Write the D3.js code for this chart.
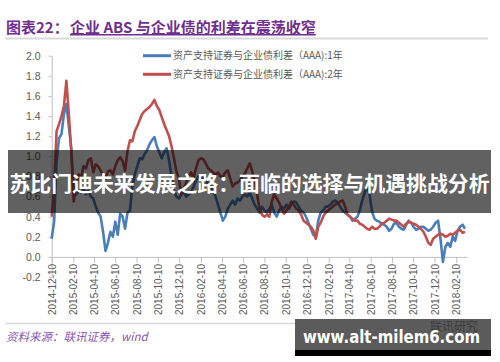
<!DOCTYPE html>
<html><head><meta charset="utf-8">
<script src="https://cdn.jsdelivr.net/npm/d3@7"></script>
<style>
html,body{margin:0;padding:0;background:#fff;}
svg{display:block;}
</style></head>
<body>
<svg id="chart" width="500" height="362"></svg>
<script>
// ---------------- data ----------------
const titleLead = "图表22：";
const titleMain = "企业 ABS 与企业债的利差在震荡收窄";
const seriesNames = ["资产支持证券与企业债利差（AAA):1年", "资产支持证券与企业债利差（AAA):2年"];
const sourceText = "资料来源：联讯证券，wind";
const bannerText = "苏比门迪未来发展之路：面临的选择与机遇挑战分析";
const siteText = "www.alt-milem6.com";
const startDate = "2014-12-10";   // first weekly observation
const endDate = "2018-03-12";
const xTickLabels = ["2014-12-10","2015-02-10","2015-04-10","2015-06-10","2015-08-10","2015-10-10","2015-12-10",
  "2016-02-10","2016-04-10","2016-06-10","2016-08-10","2016-10-10","2016-12-10","2017-02-10","2017-04-10",
  "2017-06-10","2017-08-10","2017-10-10","2017-12-10","2018-02-10"];
const yTicks = [-0.2,0.0,0.2,0.4,0.6,0.8,1.0,1.2,1.4,1.6,1.8,2.0];

// weekly values
const spread1Y = [0.18,0.35,0.95,1.18,1.22,1.42,1.52,1.30,1.08,0.65,
  0.62,0.66,0.64,0.68,0.62,0.66,0.60,0.58,0.50,0.44,
  0.40,0.25,0.06,0.14,0.25,0.20,0.35,0.22,0.43,0.40,
  0.28,0.44,0.46,0.70,0.82,0.90,0.98,0.97,1.02,1.06,
  1.12,1.16,1.19,1.10,1.04,0.98,1.04,1.08,0.96,0.80,
  0.66,0.60,0.58,0.62,0.64,0.60,0.62,0.64,0.70,0.76,
  0.80,0.78,0.80,0.76,0.72,0.70,0.66,0.60,0.52,0.44,
  0.36,0.40,0.48,0.52,0.56,0.52,0.58,0.56,0.60,0.62,
  0.60,0.64,0.58,0.52,0.48,0.44,0.50,0.46,0.44,0.48,
  0.52,0.44,0.40,0.46,0.50,0.48,0.52,0.48,0.52,0.55,
  0.54,0.50,0.46,0.44,0.40,0.34,0.28,0.22,0.20,0.36,
  0.44,0.46,0.50,0.50,0.52,0.55,0.56,0.54,0.50,0.46,
  0.44,0.42,0.40,0.36,0.38,0.40,0.46,0.56,0.64,0.70,
  0.62,0.45,0.38,0.36,0.35,0.33,0.32,0.30,0.26,0.28,
  0.33,0.34,0.30,0.28,0.27,0.32,0.36,0.34,0.30,0.27,
  0.28,0.30,0.30,0.28,0.26,0.27,0.30,0.34,0.36,0.18,
  -0.05,0.10,0.14,0.10,0.20,0.16,0.26,0.30,0.32,0.28];
const spread2Y = [0.40,0.70,1.25,1.32,1.40,1.50,1.75,1.42,1.05,0.55,
  0.70,0.82,0.78,0.90,0.88,0.96,0.98,0.84,0.92,0.90,
  0.86,0.80,0.78,0.85,0.86,0.82,0.90,0.96,0.99,0.95,
  0.86,1.05,1.16,1.15,1.25,1.30,1.36,1.42,1.45,1.47,
  1.49,1.52,1.56,1.50,1.46,1.39,1.32,1.26,1.20,1.10,
  0.98,0.85,0.78,0.62,0.68,0.74,0.80,0.84,0.78,0.88,
  0.96,0.98,0.97,0.93,0.88,0.86,0.84,0.82,0.84,0.80,
  0.80,0.84,0.86,0.78,0.70,0.73,0.74,0.76,0.80,0.83,
  0.88,0.93,0.85,0.75,0.62,0.48,0.42,0.40,0.42,0.40,
  0.55,0.62,0.58,0.54,0.48,0.43,0.46,0.50,0.55,0.52,
  0.48,0.46,0.42,0.36,0.34,0.32,0.30,0.26,0.18,0.30,
  0.34,0.40,0.44,0.46,0.48,0.50,0.52,0.53,0.55,0.56,
  0.50,0.42,0.40,0.38,0.36,0.36,0.33,0.32,0.30,0.28,
  0.27,0.30,0.28,0.28,0.30,0.33,0.34,0.36,0.38,0.37,
  0.36,0.36,0.34,0.32,0.30,0.33,0.35,0.34,0.33,0.32,
  0.30,0.28,0.25,0.20,0.14,0.12,0.18,0.20,0.22,0.23,
  0.22,0.20,0.21,0.23,0.22,0.24,0.26,0.27,0.24,0.25];

// ---------------- drawing ----------------
const parse = d3.timeParse("%Y-%m-%d");
const t0 = parse(startDate);
const dates = spread1Y.map((_, i) => d3.timeDay.offset(t0, 7 * i));

const svg = d3.select("#chart");
const cjk = "'Noto Sans CJK SC','Noto Sans',sans-serif";
const latin = "'Liberation Sans','Noto Sans CJK SC',sans-serif";

const x = d3.scaleTime().domain([t0, parse(endDate)]).range([51.7, 466.7]);
const y = d3.scaleLinear().domain([-0.2, 2.0]).range([277, 55.7]);

// title
const title = svg.append("text").attr("x", 6).attr("y", 33)
  .style("font-family", cjk).style("font-size", "15px").style("font-weight", "bold").style("fill", "#6f2f8f");
title.append("tspan").text(titleLead);
title.append("tspan").attr("x", 70).attr("text-decoration", "underline").text(titleMain);
svg.append("line").attr("x1", 5).attr("x2", 488).attr("y1", 38.5).attr("y2", 38.5)
  .attr("stroke", "#d9d9d9").attr("stroke-width", 2);

// axes
const axisColor = "#bfbfbf";
const yAxis = svg.append("g").attr("transform", `translate(${x.range()[0]},0)`)
  .call(d3.axisLeft(y).tickValues(yTicks).tickFormat(d => d.toFixed(1)).tickSize(3).tickSizeOuter(0).tickPadding(8));
yAxis.select(".domain").attr("stroke", axisColor);
yAxis.selectAll(".tick line").attr("stroke", axisColor);
yAxis.selectAll("text").style("font-family", latin).style("font-size", "10.5px").style("fill", "#595959");

const xAxis = svg.append("g").attr("transform", `translate(0,${y(0)})`)
  .call(d3.axisBottom(x).tickValues(xTickLabels.map(parse)).tickFormat(d3.timeFormat("%Y-%m-%d")).tickSize(6).tickSizeOuter(0));
xAxis.select(".domain").attr("stroke", axisColor);
xAxis.selectAll(".tick line").attr("stroke", axisColor);
xAxis.selectAll("text").attr("transform", "rotate(-90)").attr("x", -7).attr("y", 0).attr("dy", "0.35em")
  .style("text-anchor", "end").style("font-family", latin).style("font-size", "10px").style("fill", "#595959");

// lines
const colors = ["#4a7ebb", "#c0504d"];
const line = d3.line().x((d, i) => x(dates[i])).y(d => y(d));
[spread1Y, spread2Y].forEach((s, k) => {
  svg.append("path").datum(s).attr("d", line).attr("fill", "none")
    .attr("stroke", colors[k]).attr("stroke-width", 2.6).attr("stroke-linejoin", "round");
});

// legend
seriesNames.forEach((n, k) => {
  const ly = [55.7, 74.3][k];
  svg.append("line").attr("x1", 143).attr("x2", 171).attr("y1", ly).attr("y2", ly)
    .attr("stroke", colors[k]).attr("stroke-width", 3);
  svg.append("text").attr("x", 173).attr("y", ly).attr("dy", "0.35em").text(n)
    .style("font-family", cjk).style("font-size", "10px").style("fill", "#595959");
});

// footer
svg.append("line").attr("x1", 5).attr("x2", 488).attr("y1", 323.5).attr("y2", 323.5)
  .attr("stroke", "#d9d9d9").attr("stroke-width", 1.5);
svg.append("text").attr("x", 6).attr("y", 341).text(sourceText)
  .style("font-family", cjk).style("font-size", "11.5px").style("font-style", "italic").style("fill", "#8a55b0");

// overlay banner
svg.append("rect").attr("x", 8).attr("y", 150).attr("width", 483).attr("height", 63)
  .attr("fill", "rgba(0,0,0,0.62)");
svg.append("text").attr("x", 249.5).attr("y", 184).attr("dy", "0.35em").attr("text-anchor", "middle")
  .attr("textLength", 480).attr("lengthAdjust", "spacingAndGlyphs").text(bannerText)
  .style("font-family", cjk).style("font-size", "21px").style("font-weight", "bold").style("fill", "#ffffff");

// site badge
svg.append("rect").attr("x", 295).attr("y", 319).attr("width", 196).attr("height", 31).attr("fill", "#5b5b5b");
svg.append("rect").attr("x", 295).attr("y", 350).attr("width", 196).attr("height", 6).attr("fill", "#000");
svg.append("text").attr("x", 430).attr("y", 331).text("联讯研究")
  .style("font-family", cjk).style("font-size", "12px").style("fill", "#3c3c3c");
svg.append("text").attr("x", 303).attr("y", 343).attr("textLength", 177).attr("lengthAdjust", "spacingAndGlyphs")
  .text(siteText).style("font-family", "'DejaVu Sans',sans-serif").style("font-size", "17px")
  .style("font-weight", "bold").style("fill", "#ffffff");
</script>
</body></html>
